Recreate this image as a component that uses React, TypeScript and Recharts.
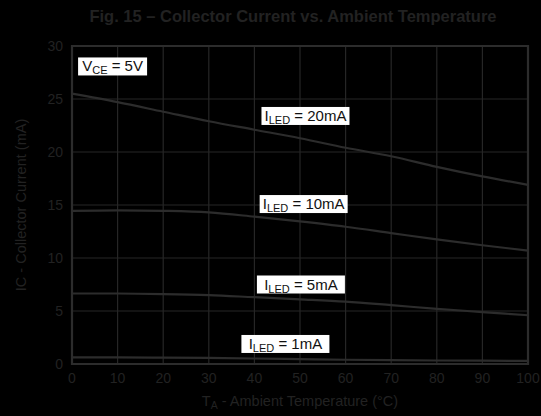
import React from "react";
import { LineChart, Line, XAxis, YAxis, CartesianGrid, ReferenceArea, ReferenceDot } from "recharts";

const temps = [0, 10, 20, 30, 40, 50, 60, 70, 80, 90, 100];
const iled20 = [25.5, 24.7, 23.8, 22.9, 22.1, 21.3, 20.4, 19.6, 18.6, 17.7, 16.9];
const iled10 = [14.45, 14.5, 14.45, 14.3, 13.9, 13.45, 12.95, 12.35, 11.75, 11.2, 10.7];
const iled5 = [6.65, 6.65, 6.6, 6.5, 6.3, 6.1, 5.88, 5.55, 5.2, 4.9, 4.6];
const iled1 = [0.62, 0.62, 0.6, 0.57, 0.52, 0.46, 0.4, 0.36, 0.33, 0.31, 0.3];
const xTicks = [0, 10, 20, 30, 40, 50, 60, 70, 80, 90, 100];
const yTicks = [0, 5, 10, 15, 20, 25, 30];

type Ann = { x: number; y: number; main: string; sub: string; rest: string; w: number };
const annotations: Ann[] = [
  { x: 8.9, y: 28.07, main: "V", sub: "CE", rest: " = 5V", w: 69 },
  { x: 51.2, y: 23.4, main: "I", sub: "LED", rest: " = 20mA", w: 88 },
  { x: 50.8, y: 15.09, main: "I", sub: "LED", rest: " = 10mA", w: 88 },
  { x: 50.2, y: 7.5, main: "I", sub: "LED", rest: " = 5mA", w: 88 },
  { x: 46.8, y: 1.89, main: "I", sub: "LED", rest: " = 1mA", w: 88 },
];

const data = temps.map((t, i) => ({ t, a: iled20[i], b: iled10[i], c: iled5[i], d: iled1[i] }));

const FONT = "'Liberation Sans', Arial, Helvetica, sans-serif";
const TXT = "#222222";
const LINE = "#2c2c2c";
const GRID = "#262626";

function makeShape(a: Ann) {
  return (props: any) => {
    const cx = props.cx;
    const cy = props.cy;
    const h = 18;
    return (
      <g>
        <rect x={cx - a.w / 2} y={cy - h / 2} width={a.w} height={h} fill="#ffffff" />
        <text x={cx} y={cy + 5} textAnchor="middle" fontFamily={FONT} fontSize={15} fill="#111">
          {a.main}
          <tspan fontSize={11} dy={3}>{a.sub}</tspan>
          <tspan dy={-3}>{a.rest}</tspan>
        </text>
      </g>
    );
  };
}

const XLabel = (props: any) => {
  const vb = props.viewBox || {};
  const cx = vb.x + vb.width / 2;
  return (
    <text x={cx} y={vb.y + 42} textAnchor="middle" fontFamily={FONT} fontSize={14.5} fill={TXT}>
      T<tspan fontSize={10.5} dy={3}>A</tspan>
      <tspan dy={-3}> - Ambient Temperature (°C)</tspan>
    </text>
  );
};

const YLabel = (props: any) => {
  const vb = props.viewBox || {};
  const cy = vb.y + vb.height / 2;
  const cx = 26;
  return (
    <text x={cx} y={cy} transform={`rotate(-90 ${cx} ${cy})`} textAnchor="middle" fontFamily={FONT} fontSize={14.5} fill={TXT}>
      IC - Collector Current (mA)
    </text>
  );
};

export default function App() {
  return (
    <div style={{ position: "absolute", left: 0, top: 0, width: 541, height: 416, background: "#000", overflow: "hidden" }}>
      <svg width={541} height={30} style={{ position: "absolute", left: 0, top: 0 }}>
        <text x={293} y={22} textAnchor="middle" fontFamily={FONT} fontWeight="bold" fontSize={16.5} fill={TXT}>
          Fig. 15 – Collector Current vs. Ambient Temperature
        </text>
      </svg>
      <LineChart width={541} height={416} data={data} margin={{ top: 46, right: 13, bottom: 0, left: 0 }} style={{ position: "absolute", left: 0, top: 0 }}>
        <CartesianGrid stroke={GRID} strokeWidth={1.2} />
        <XAxis
          dataKey="t"
          type="number"
          domain={[0, 100]}
          ticks={xTicks}
          interval={0}
          height={52}
          tickSize={0}
          tickMargin={9}
          axisLine={false}
          tick={{ fill: TXT, fontSize: 14, fontFamily: FONT }}
          label={<XLabel />}
        />
        <YAxis
          type="number"
          domain={[0, 30]}
          ticks={yTicks}
          interval={0}
          width={72}
          tickSize={0}
          tickMargin={9}
          axisLine={false}
          tick={{ fill: TXT, fontSize: 14, fontFamily: FONT }}
          label={<YLabel />}
        />
        <ReferenceArea x1={0} x2={100} y1={0} y2={30} fill="none" stroke={LINE} strokeWidth={2.2} ifOverflow="visible" />
        <Line type="monotone" dataKey="a" stroke={LINE} strokeWidth={2.2} dot={false} isAnimationActive={false} />
        <Line type="monotone" dataKey="b" stroke={LINE} strokeWidth={2.2} dot={false} isAnimationActive={false} />
        <Line type="monotone" dataKey="c" stroke={LINE} strokeWidth={2.2} dot={false} isAnimationActive={false} />
        <Line type="monotone" dataKey="d" stroke={LINE} strokeWidth={2.2} dot={false} isAnimationActive={false} />
        {annotations.map((a, i) => (
          <ReferenceDot key={i} x={a.x} y={a.y} r={0} ifOverflow="visible" shape={makeShape(a)} />
        ))}
      </LineChart>
    </div>
  );
}
